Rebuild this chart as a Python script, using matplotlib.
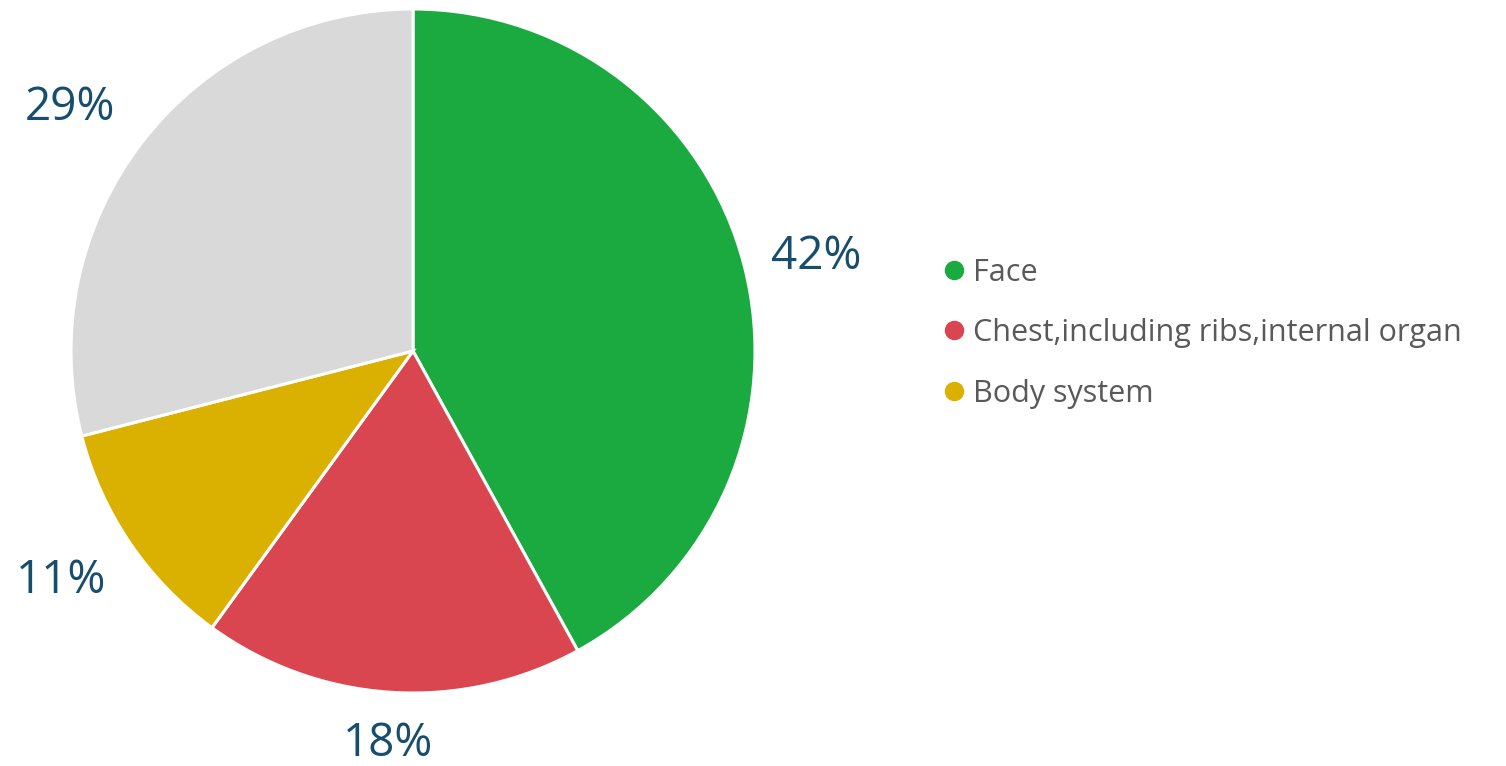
import matplotlib.pyplot as plt
import numpy as np
from matplotlib.lines import Line2D

categories = ["Face", "Chest,including ribs,internal organ", "Body system", "Other"]
shares = [42, 18, 11, 29]
colors = ["#1BAA40", "#D94650", "#DAB100", "#D9D9D9"]
legend_items = categories[:3]

W, H = 1506, 766
fig = plt.figure(figsize=(W / 100, H / 100), dpi=100)

# pie centre / radius in pixels
cx, cy, r = 413, 766 - 351, 342
ax = fig.add_axes([(cx - r) / W, (cy - r) / H, 2 * r / W, 2 * r / H])

wedges, _ = ax.pie(shares, colors=colors, startangle=90, counterclock=False,
                   radius=1, wedgeprops=dict(edgecolor="white", linewidth=2.2))
ax.set_xlim(-1, 1)
ax.set_ylim(-1, 1)
ax.set_aspect("equal")
ax.axis("off")

# percentage labels placed outside the wedges (distance, angle nudge in deg)
offsets = [(1.21, -1.2), (1.15, 0), (1.23, -1.0), (1.23, 2.5)]
for w, s, (d, da) in zip(wedges, shares, offsets):
    ang = np.deg2rad((w.theta1 + w.theta2) / 2 + da)
    ax.text(d * np.cos(ang), d * np.sin(ang), f"{s}%", ha="center", va="center",
            fontsize=33, color="#174E6E", family="Open Sans", clip_on=False)

handles = [Line2D([], [], marker="o", linestyle="", markersize=13,
                  markerfacecolor=c, markeredgecolor=c) for c in colors[:3]]
fig.legend(handles, legend_items, loc="upper left",
           bbox_to_anchor=(910 / W, 1 - 230 / H), frameon=False,
           handletextpad=0.07, labelspacing=1.0, handlelength=1.1,
           prop=dict(family="Open Sans", size=22), labelcolor="#595959")

fig.savefig("out.png", dpi=100)
